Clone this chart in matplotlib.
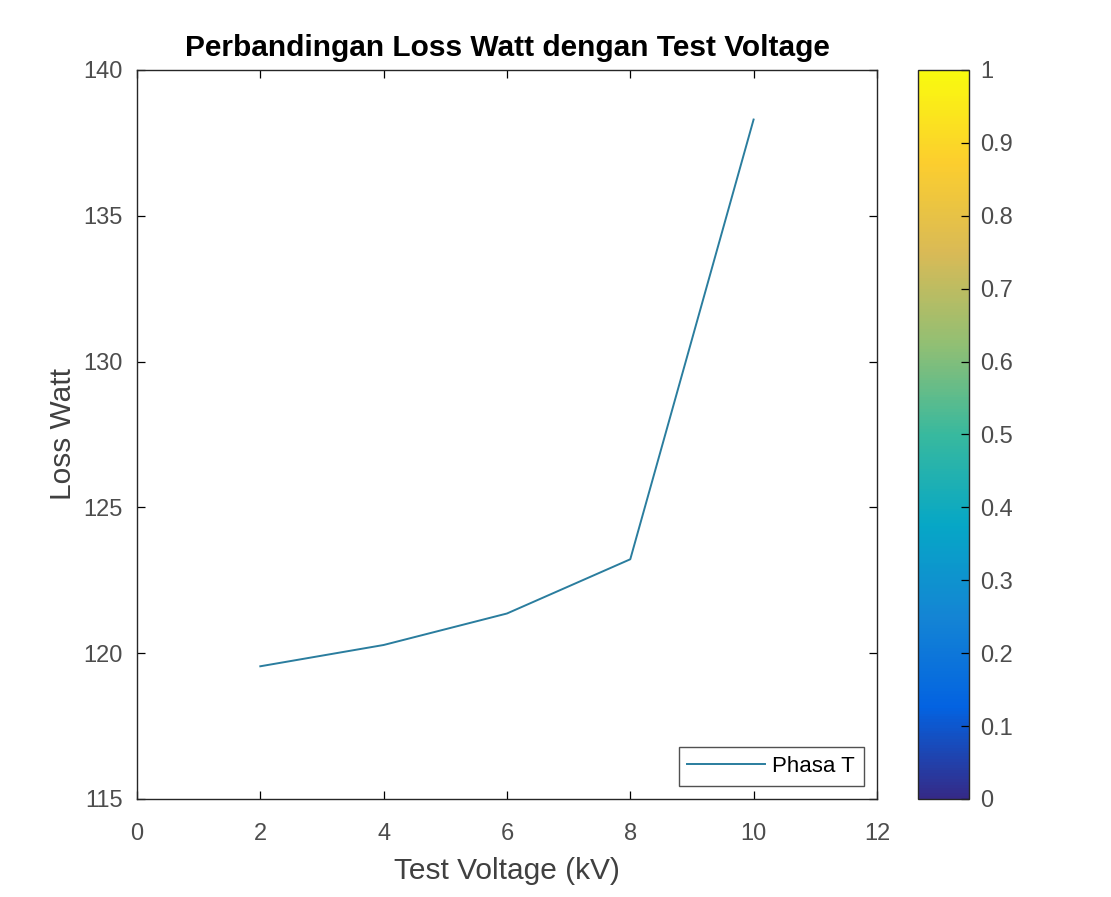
import matplotlib
matplotlib.use("Agg")
import matplotlib.pyplot as plt
import numpy as np
from matplotlib.colors import LinearSegmentedColormap
import matplotlib as mpl

plt.rcParams['font.family'] = ['Liberation Sans', 'DejaVu Sans']

# data
voltage = [2, 4, 6, 8, 10]
loss_watt = [119.55, 120.28, 121.36, 123.22, 138.3]
cbar_ticks = [0, 0.1, 0.2, 0.3, 0.4, 0.5, 0.6, 0.7, 0.8, 0.9, 1]

# approximation of MATLAB parula
parula_pts = ['#352a87', '#0363e1', '#1485d4', '#06a7c6', '#38b99e',
              '#92bf73', '#d9ba56', '#fcce2e', '#f9fb0e']
parula = LinearSegmentedColormap.from_list('parula', parula_pts)

fig = plt.figure(figsize=(11.11, 8.97), dpi=100)
ax = fig.add_axes([0.1233, 0.1093, 0.666, 0.8127])
cax = fig.add_axes([0.8263, 0.1093, 0.0459, 0.8127])

ax.plot(voltage, loss_watt, color='#2a7d9e', lw=1.4, label='Phasa T')
ax.set_xlim(0, 12)
ax.set_ylim(115, 140)
ax.set_xticks(range(0, 13, 2))
ax.set_yticks(range(115, 141, 5))
ax.tick_params(direction='in', top=True, right=True, labelsize=17,
               labelcolor='#4d4d4d', length=6, width=0.9)
ax.tick_params(axis='x', pad=17)
ax.tick_params(axis='y', pad=10)
for s in ax.spines.values():
    s.set_color('#262626')
    s.set_linewidth(1.0)
ax.set_xlabel('Test Voltage (kV)', fontsize=21.5, color='#404040', labelpad=9)
ax.set_ylabel('Loss Watt', fontsize=21.5, color='#404040', labelpad=5)
ax.set_title('Perbandingan Loss Watt dengan Test Voltage', fontsize=21.5,
             fontweight='bold', pad=10)
leg = ax.legend(loc='lower right', fontsize=16, fancybox=False,
                handlelength=3.5, borderaxespad=0.6, borderpad=0.4,
                handletextpad=0.3)
leg.get_frame().set_edgecolor('#262626')
leg.get_frame().set_linewidth(1.0)

cb = mpl.colorbar.ColorbarBase(cax, cmap=parula,
                               norm=mpl.colors.Normalize(0, 1))
cb.set_ticks(cbar_ticks)
cb.set_ticklabels(['0', '0.1', '0.2', '0.3', '0.4', '0.5', '0.6', '0.7',
                   '0.8', '0.9', '1'])
cax.tick_params(direction='in', labelsize=17, labelcolor='#4d4d4d',
                length=6, width=0.9, pad=8)
cb.outline.set_edgecolor('#262626')
cb.outline.set_linewidth(1.0)

fig.savefig('out.png', dpi=100)
